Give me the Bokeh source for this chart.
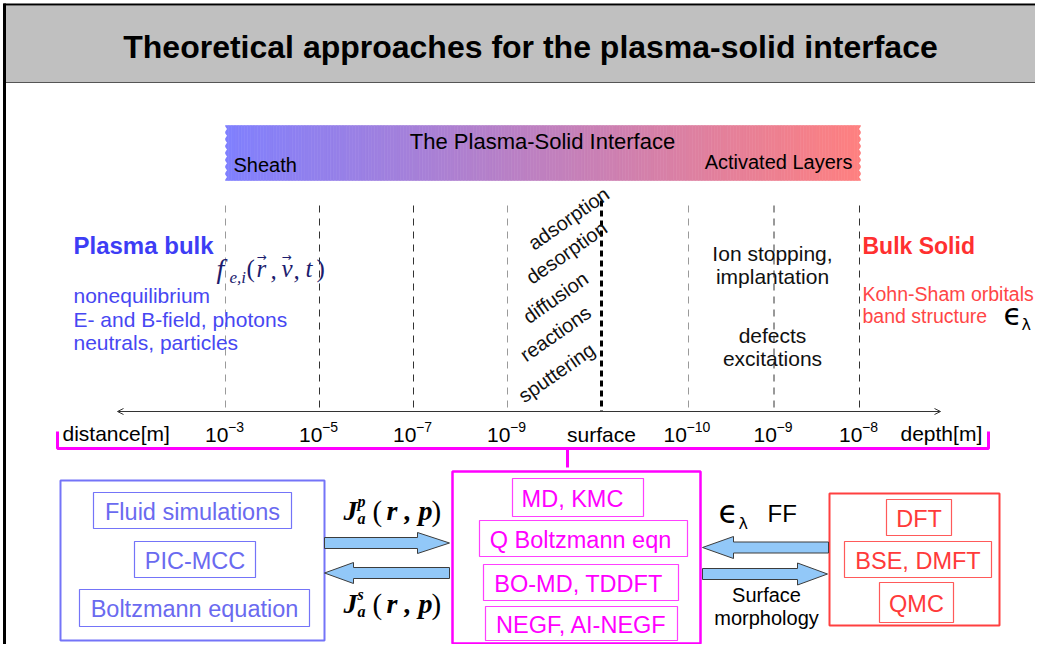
import numpy as np
from bokeh.plotting import figure
from bokeh.models import Range1d, Arrow, OpenHead
from bokeh.core.properties import value
from bokeh.embed import file_html
from bokeh.resources import INLINE

# ---------------- content ----------------
title_text = "Theoretical approaches for the plasma-solid interface"
band_title = "The Plasma-Solid Interface"
band_left = "Sheath"
band_right = "Activated Layers"
plasma_head = "Plasma bulk"
plasma_lines = ["nonequilibrium", "E- and B-field, photons", "neutrals, particles"]
processes = ["adsorption", "desorption", "diffusion", "reactions", "sputtering"]
solid_head = "Bulk Solid"
solid_lines = ["Kohn-Sham orbitals", "band structure"]
implant_lines = ["Ion stopping,", "implantation"]
defect_lines = ["defects", "excitations"]
dist_exponents = ["\u22123", "\u22125", "\u22127", "\u22129"]
depth_exponents = ["\u221210", "\u22129", "\u22128"]
axis_labels = ["distance[m]", "surface", "depth[m]"]
plasma_methods = ["Fluid simulations", "PIC-MCC", "Boltzmann equation"]
interface_methods = ["MD, KMC", "Q Boltzmann eqn", "BO-MD, TDDFT", "NEGF, AI-NEGF"]
solid_methods = ["DFT", "BSE, DMFT", "QMC"]
flux_sup = ["p", "s"]
exchange_labels = ["FF", "Surface", "morphology"]
dist_func = ["f", "e,i", "(", "r", ",", "v", ",", "t", ")"]

# ---------------- layout ----------------
W, H = 1035, 644
p = figure(width=W, height=H, x_range=Range1d(0, W), y_range=Range1d(H, 0),
           output_backend="svg", toolbar_location=None, min_border=0)
p.axis.visible = False
p.grid.visible = False
p.outline_line_color = None
p.background_fill_color = "white"

SANS = "Liberation Sans"
SERIF = "Liberation Serif"


def T(x, y, s, size, color="black", style="normal", font=SANS, align="left",
      baseline="middle", angle=0.0):
    p.text(x=[x], y=[y], text=[s], text_font=value(font), text_font_size=f"{size}px",
           text_color=color, text_font_style=style, text_align=align,
           text_baseline=baseline, angle=angle)


def box(l, r, t, b, color, width=1.5):
    p.quad(left=[l], right=[r], top=[t], bottom=[b], fill_color=None,
           line_color=color, line_width=width)


def block_arrow(x_tail, x_tip, yc, shaft, head, head_len):
    d = 1 if x_tip > x_tail else -1
    xb = x_tip - d * head_len
    xs = [x_tail, xb, xb, x_tip, xb, xb, x_tail]
    ys = [yc - shaft, yc - shaft, yc - head, yc, yc + head, yc + shaft, yc + shaft]
    p.patch(xs, ys, fill_color="#92c8f8", line_color="#3c3c3c", line_width=1)


# title bar + frame
p.quad(left=[4], right=[W], top=[5], bottom=[82], fill_color="#c0c0c0", line_color=None)
p.segment(x0=[4], y0=[82], x1=[W], y1=[82], line_color="#555555", line_width=1)
p.segment(x0=[3], y0=[4], x1=[W], y1=[4], line_color="black", line_width=2)
p.segment(x0=[4], y0=[3], x1=[4], y1=[H], line_color="black", line_width=3)
T(530, 46, title_text, 32, "black", "bold", align="center")

# gradient band with wavy ends
n = 200
edges = np.linspace(225, 860, n + 1)
c0 = np.array([128, 128, 255])
c1 = np.array([255, 128, 128])
cols = []
for i in range(n):
    f = (i + 0.5) / n
    c = (c0 + (c1 - c0) * f).astype(int)
    cols.append("#%02x%02x%02x" % tuple(c))
p.quad(left=edges[:-1], right=edges[1:], top=125, bottom=180, fill_color=cols, line_color=cols,
       line_width=0.6)
wy = np.linspace(125, 180, 17)
wx = 2.5 * (np.arange(17) % 2)
p.patch(np.concatenate([[221], 224 + wx, [221]]), np.concatenate([[124], wy, [181]]),
        fill_color="white", line_color=None)
p.patch(np.concatenate([[864], 861 - wx, [864]]), np.concatenate([[124], wy, [181]]),
        fill_color="white", line_color=None)
T(542, 141, band_title, 22, "black", align="center")
T(233, 164, band_left, 20, "black")
T(852, 161, band_right, 20, "black", align="right")

# vertical dashed guides
left_x = [225 + 94 * i for i in range(4)]
surf_x = 601
right_x = [688, 773.5, 859]
for x, c in zip(left_x, ["#9a9a9a", "#333333", "#333333", "#9a9a9a"]):
    p.segment(x0=[x], y0=[205], x1=[x], y1=[411], line_color=c, line_width=1, line_dash="7 6")
for x, c in zip(right_x, ["#9a9a9a", "#333333", "#333333"]):
    p.segment(x0=[x], y0=[205], x1=[x], y1=[411], line_color=c, line_width=1, line_dash="7 6")
p.segment(x0=[surf_x], y0=[200], x1=[surf_x], y1=[411], line_color="black", line_width=3,
          line_dash="6 4")

# axis
p.add_layout(Arrow(start=OpenHead(size=6, line_width=1, line_color="#333333"),
                   end=OpenHead(size=6, line_width=1, line_color="#333333"),
                   x_start=117, y_start=411, x_end=940, y_end=411,
                   line_color="#333333", line_width=1))


def power_label(xc, exp):
    bw = 23
    ew = 9 * len(exp)
    x0 = xc - (bw + ew) / 2
    T(x0, 434, "10", 21, "black")
    T(x0 + bw, 426, exp, 14, "black")


for x, e in zip(left_x, dist_exponents):
    power_label(x, e)
for x, e in zip(right_x, depth_exponents):
    power_label(x, e)
T(62, 433, axis_labels[0], 21, "black")
T(601, 434, axis_labels[1], 21, "black", align="center")
T(900, 433, axis_labels[2], 21, "black")

# magenta bracket
MAG = "#ff00ff"
p.line([57, 57, 988, 988], [431, 448, 448, 431], line_color=MAG, line_width=3)
p.segment(x0=[567], y0=[448], x1=[567], y1=[467], line_color=MAG, line_width=3)

# plasma side text
BLUE_H = "#3d3df5"
T(73, 245, plasma_head, 24, BLUE_H, "bold")
for i, s in enumerate(plasma_lines):
    T(73, 295 + 23.5 * i, s, 21, "#4747f2")
NAVY = "#1c1c6e"
fx = [216, 229, 246, 256, 270, 281, 293, 305, 316]
fy = [268, 277, 268, 268, 270, 268, 270, 268, 268]
fs = [28, 17, 25, 25, 25, 25, 25, 25, 25]
fst = ["italic", "italic", "normal", "italic", "italic", "italic", "italic", "italic", "normal"]
for x, y, s, sz, st in zip(fx, fy, dist_func, fs, fst):
    T(x, y, s, sz, NAVY, st, SERIF)
for x in [261, 286]:
    T(x, 256, "\u2192", 12, NAVY, "normal", "DejaVu Sans", align="center")

# processes (rotated)
proc_xy = [(568, 218), (566, 252), (555, 297), (555, 333), (556, 372)]
for (x, y), s in zip(proc_xy, processes):
    T(x, y, s, 20, "#111111", align="center", angle=np.deg2rad(35))

# solid side
for i, s in enumerate(implant_lines):
    T(772, 253 + 23 * i, s, 21, "#111111", align="center")
for i, s in enumerate(defect_lines):
    T(772, 335 + 23 * i, s, 21, "#111111", align="center")
RED_H = "#ff3030"
T(862, 245, solid_head, 23, RED_H, "bold")
for i, s in enumerate(solid_lines):
    T(862, 293 + 22.5 * i, s, 19.5, "#ff4646")
T(1003, 314, "\u03f5", 30, "black", font="DejaVu Sans")
T(1021, 324, "\u03bb", 16, "black", font="DejaVu Sans")

# bottom: plasma methods
BLUE_B = "#7474f8"
box(60, 324, 480, 640, BLUE_B, 2)
pm_boxes = [(93, 291, 492, 528), (134, 255, 541, 577), (79, 309, 589, 626)]
for (l, r, t, b), s in zip(pm_boxes, plasma_methods):
    box(l, r, t, b, BLUE_B, 1.2)
    T((l + r) / 2, (t + b) / 2 + 1, s, 23.5, "#6a6af0", align="center")

# interface methods
box(452, 700, 471, 643, MAG, 2.5)
im_boxes = [(512, 643, 478, 516), (479, 687, 520, 556), (483, 678, 564, 600), (485, 677, 606, 640)]
im_text_x = [572, 580, 578, 581]
for (l, r, t, b), xt, s in zip(im_boxes, im_text_x, interface_methods):
    box(l, r, t, b, "#ff40ff", 1.2)
    T(xt, (t + b) / 2 + 1, s, 23.5, MAG, align="center")

# solid methods
RED_B = "#ff4040"
box(829, 999, 493, 625, RED_B, 2)
sm_boxes = [(886, 951, 499, 535), (844, 991, 541, 577), (879, 953, 582, 622)]
for (l, r, t, b), s in zip(sm_boxes, solid_methods):
    box(l, r, t, b, "#ff5a5a", 1.2)
    T((l + r) / 2, (t + b) / 2 + 1, s, 23.5, "#ff3a3a", align="center")

# block arrows
block_arrow(324, 449, 542.5, 5.5, 10.5, 32)
block_arrow(449, 324, 572.5, 5.5, 10.5, 29)
block_arrow(828, 702, 547, 5.5, 11, 31)
block_arrow(702, 827, 573.5, 5.5, 11, 30)

# flux labels
for yc, sup in zip([510, 603], flux_sup):
    T(343, yc, "J", 28, "black", "bold italic", SERIF)
    T(357, yc - 9, sup, 16, "black", "bold italic", SERIF)
    T(357, yc + 8, "a", 16, "black", "bold italic", SERIF)
    T(372, yc, "(", 29, "black", "normal", SERIF)
    T(386, yc, "r , p", 28, "black", "bold italic", SERIF)
    T(431, yc, ")", 29, "black", "normal", SERIF)

T(718, 511, "\u03f5", 32, "black", font="DejaVu Sans")
T(738, 523, "\u03bb", 16, "black", font="DejaVu Sans")
T(767, 513, exchange_labels[0], 24, "black")
T(766, 594, exchange_labels[1], 20, "black", align="center")
T(766, 617, exchange_labels[2], 20, "black", align="center")

open("out.html", "w").write(file_html(p, INLINE))
